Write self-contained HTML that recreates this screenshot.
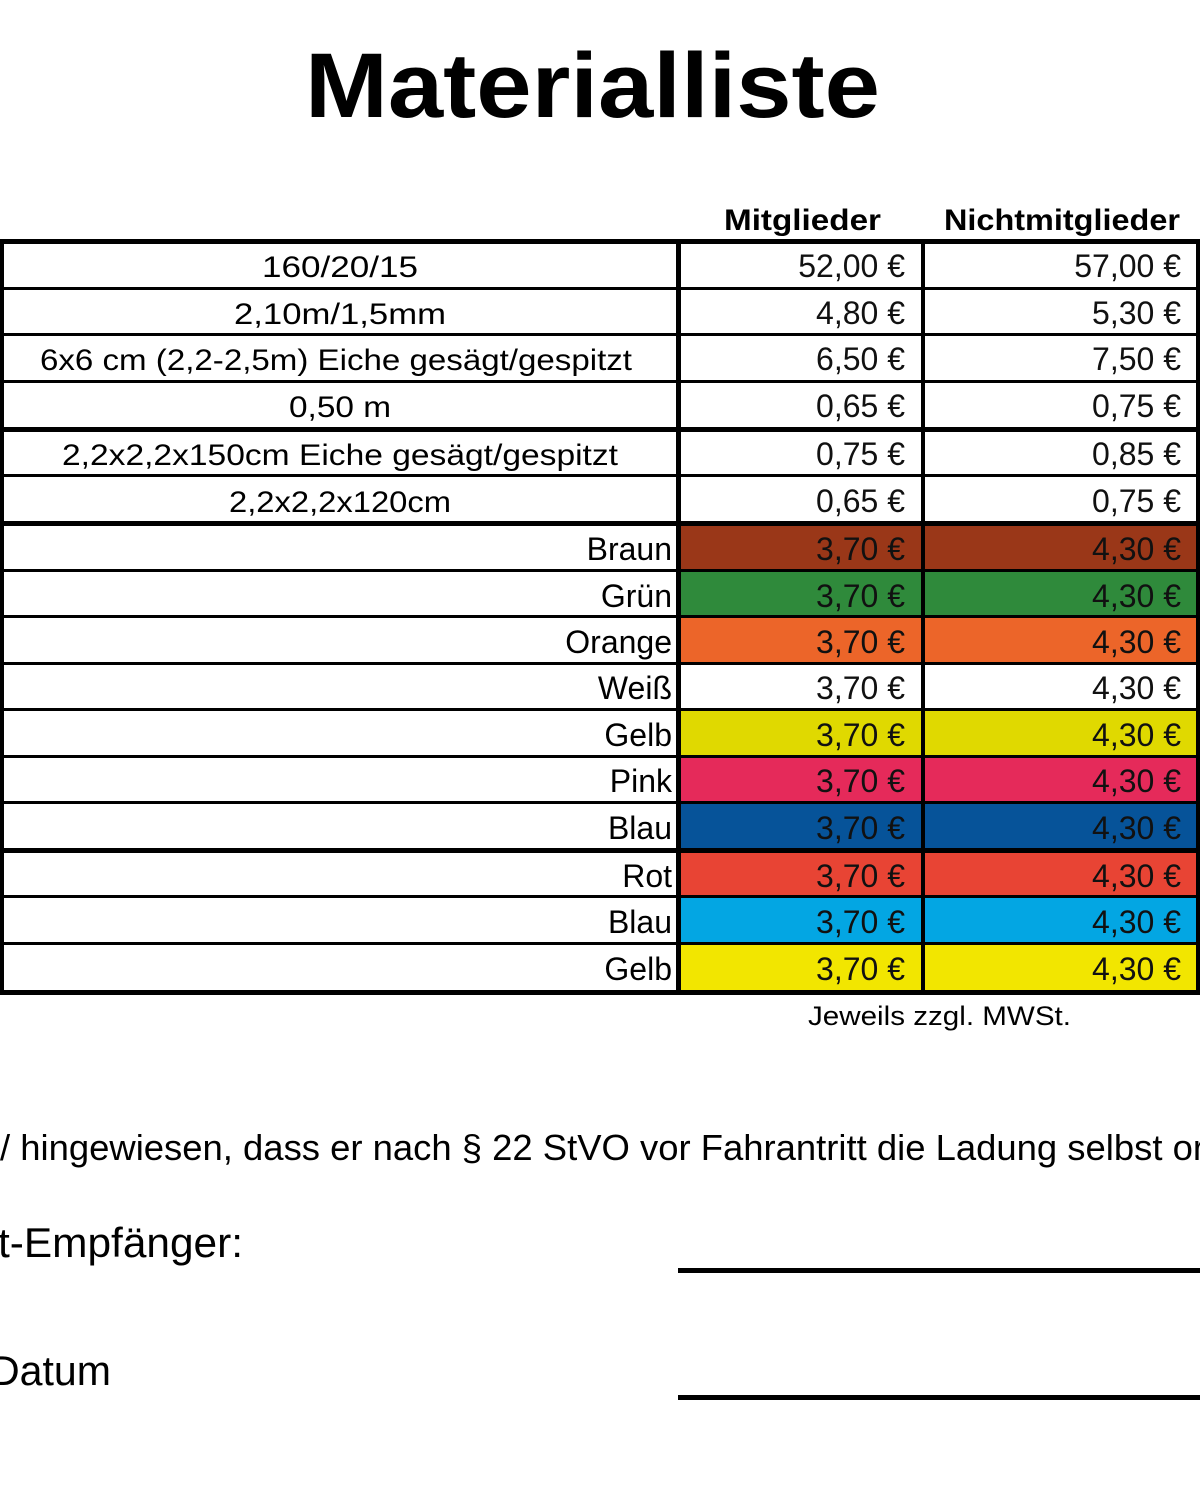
<!DOCTYPE html>
<html><head><meta charset="utf-8"><style>html,body{margin:0;padding:0;background:#fff;width:1200px;height:1501px;overflow:hidden}</style></head>
<body>
<svg width="1200" height="1501" xmlns="http://www.w3.org/2000/svg" font-family="Liberation Sans, sans-serif">
<rect width="1200" height="1501" fill="#fff"/>
<text x="305" y="117" font-size="92" font-weight="bold" textLength="575" lengthAdjust="spacingAndGlyphs">Materialliste</text>
<text x="724" y="230" font-size="30" font-weight="bold" textLength="157" lengthAdjust="spacingAndGlyphs">Mitglieder</text>
<text x="944" y="230" font-size="30" font-weight="bold" textLength="236" lengthAdjust="spacingAndGlyphs">Nichtmitglieder</text>
<g>
<rect x="680" y="523" width="517" height="48" fill="#9a3718"/>
<rect x="680" y="571" width="517" height="46" fill="#2f8a3b"/>
<rect x="680" y="617" width="517" height="47" fill="#ec6529"/>
<rect x="680" y="710" width="517" height="47" fill="#e0d900"/>
<rect x="680" y="757" width="517" height="46" fill="#e52a5a"/>
<rect x="680" y="803" width="517" height="47" fill="#065399"/>
<rect x="680" y="850" width="517" height="47" fill="#e84434"/>
<rect x="680" y="897" width="517" height="47" fill="#03a6e3"/>
<rect x="680" y="944" width="517" height="48" fill="#f2e600"/>
</g>
<g fill="#000">
<rect x="0" y="239" width="1200" height="5"/>
<rect x="0" y="287" width="1200" height="3"/>
<rect x="0" y="333" width="1200" height="3"/>
<rect x="0" y="380" width="1200" height="3"/>
<rect x="0" y="427" width="1200" height="5"/>
<rect x="0" y="474" width="1200" height="3"/>
<rect x="0" y="521" width="1200" height="5"/>
<rect x="0" y="569" width="1200" height="3"/>
<rect x="0" y="615" width="1200" height="3"/>
<rect x="0" y="662" width="1200" height="3"/>
<rect x="0" y="708" width="1200" height="3"/>
<rect x="0" y="755" width="1200" height="3"/>
<rect x="0" y="801" width="1200" height="3"/>
<rect x="0" y="848" width="1200" height="5"/>
<rect x="0" y="895" width="1200" height="3"/>
<rect x="0" y="942" width="1200" height="3"/>
<rect x="0" y="990" width="1200" height="5"/>
<rect x="0" y="239" width="4" height="756"/>
<rect x="676" y="239" width="5" height="756"/>
<rect x="921" y="239" width="4" height="756"/>
<rect x="1196" y="239" width="4" height="756"/>
</g>
<g font-size="30" text-anchor="middle">
<text x="340" y="277" textLength="156" lengthAdjust="spacingAndGlyphs">160/20/15</text>
<text x="340" y="324" textLength="212" lengthAdjust="spacingAndGlyphs">2,10m/1,5mm</text>
<text x="336" y="370" textLength="592" lengthAdjust="spacingAndGlyphs">6x6 cm (2,2-2,5m) Eiche gesägt/gespitzt</text>
<text x="340" y="417" textLength="102" lengthAdjust="spacingAndGlyphs">0,50 m</text>
<text x="340" y="465" textLength="556" lengthAdjust="spacingAndGlyphs">2,2x2,2x150cm  Eiche gesägt/gespitzt</text>
<text x="340" y="512" textLength="222" lengthAdjust="spacingAndGlyphs">2,2x2,2x120cm</text>
</g>
<g font-size="32" text-anchor="end">
<text x="672" y="560">Braun</text>
<text x="672" y="607">Grün</text>
<text x="672" y="653">Orange</text>
<text x="672" y="699">Weiß</text>
<text x="672" y="746">Gelb</text>
<text x="672" y="792">Pink</text>
<text x="672" y="839">Blau</text>
<text x="672" y="887">Rot</text>
<text x="672" y="933">Blau</text>
<text x="672" y="980">Gelb</text>
</g>
<g font-size="32" text-anchor="end" fill="#111">
<text x="905" y="277">52,00 €</text><text x="1181" y="277">57,00 €</text>
<text x="905" y="324">4,80 €</text><text x="1181" y="324">5,30 €</text>
<text x="905" y="370">6,50 €</text><text x="1181" y="370">7,50 €</text>
<text x="905" y="417">0,65 €</text><text x="1181" y="417">0,75 €</text>
<text x="905" y="465">0,75 €</text><text x="1181" y="465">0,85 €</text>
<text x="905" y="512">0,65 €</text><text x="1181" y="512">0,75 €</text>
<text x="905" y="560">3,70 €</text><text x="1181" y="560">4,30 €</text>
<text x="905" y="607">3,70 €</text><text x="1181" y="607">4,30 €</text>
<text x="905" y="653">3,70 €</text><text x="1181" y="653">4,30 €</text>
<text x="905" y="699">3,70 €</text><text x="1181" y="699">4,30 €</text>
<text x="905" y="746">3,70 €</text><text x="1181" y="746">4,30 €</text>
<text x="905" y="792">3,70 €</text><text x="1181" y="792">4,30 €</text>
<text x="905" y="839">3,70 €</text><text x="1181" y="839">4,30 €</text>
<text x="905" y="887">3,70 €</text><text x="1181" y="887">4,30 €</text>
<text x="905" y="933">3,70 €</text><text x="1181" y="933">4,30 €</text>
<text x="905" y="980">3,70 €</text><text x="1181" y="980">4,30 €</text>
</g>
<text x="808" y="1025" font-size="27" textLength="263" lengthAdjust="spacingAndGlyphs">Jeweils zzgl. MWSt.</text>
<text x="0" y="1160" font-size="36" textLength="1205" lengthAdjust="spacingAndGlyphs">/ hingewiesen, dass er nach § 22 StVO vor Fahrantritt die Ladung selbst or</text>
<text x="-2" y="1257" font-size="42" textLength="245" lengthAdjust="spacingAndGlyphs">t-Empfänger:</text>
<text x="-10" y="1385" font-size="42" textLength="121" lengthAdjust="spacingAndGlyphs">Datum</text>
<rect x="678" y="1268" width="522" height="5" fill="#000"/>
<rect x="678" y="1395" width="522" height="5" fill="#000"/>
</svg>
</body></html>
